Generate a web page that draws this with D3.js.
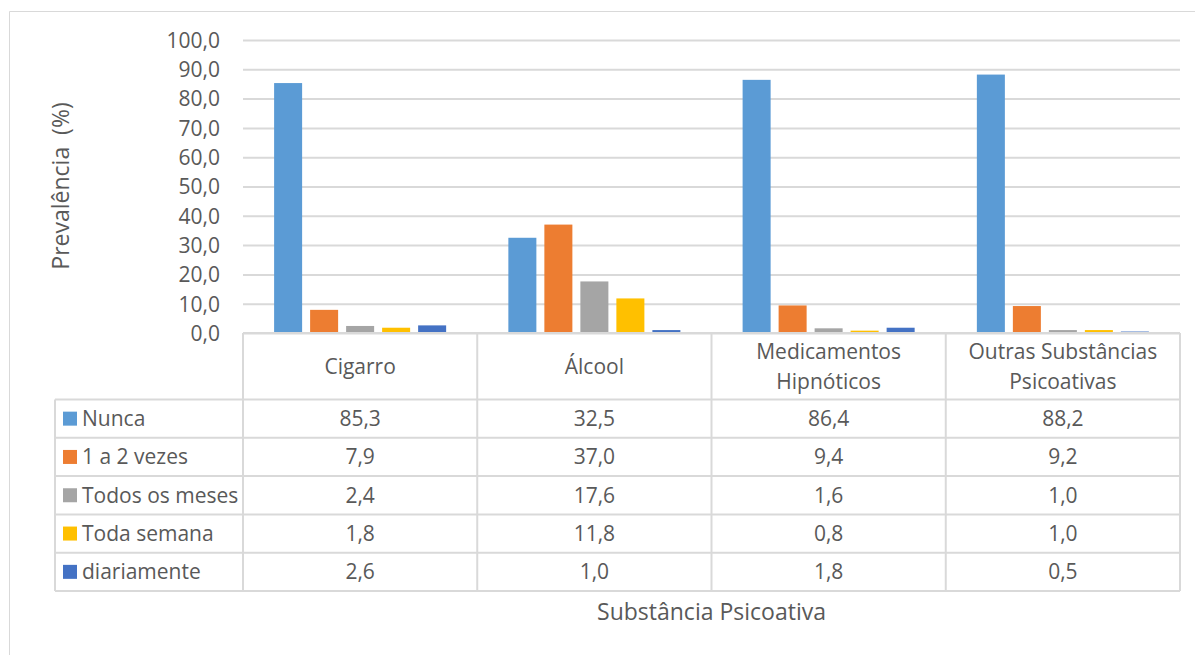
<!DOCTYPE html>
<html><head><meta charset="utf-8">
<script src="https://cdn.jsdelivr.net/npm/d3@7"></script>
<style>body{margin:0;background:#fff}svg{display:block}text{font-family:"Open Sans",sans-serif;fill:#595959}</style>
</head><body><svg id="c" width="1195" height="655"></svg>
<script>
const categories = [["Cigarro"], ["Álcool"], ["Medicamentos", "Hipnóticos"], ["Outras Substâncias", "Psicoativas"]];
const seriesNames = ["Nunca", "1 a 2 vezes", "Todos os meses", "Toda semana", "diariamente"];
const nunca = [85.3, 32.5, 86.4, 88.2];
const vezes12 = [7.9, 37.0, 9.4, 9.2];
const todosMeses = [2.4, 17.6, 1.6, 1.0];
const todaSemana = [1.8, 11.8, 0.8, 1.0];
const diariamente = [2.6, 1.0, 1.8, 0.5];
const yTicks = [0, 10, 20, 30, 40, 50, 60, 70, 80, 90, 100];
const colors = ["#5B9BD5", "#ED7D31", "#A5A5A5", "#FFC000", "#4472C4"];
const series = [nunca, vezes12, todosMeses, todaSemana, diariamente];

const svg = d3.select("#c");
const fmt = v => v.toFixed(1).replace(".", ",");
const L = 243, R = 1180, T = 40, B = 333;
const legL = 55;
const rowH = 38.3, headH = 66.5;
const grid = "#D9D9D9";
const fs = 21;

// outer border
svg.append("path").attr("d", "M9.5,655 V11.5 H1195").attr("fill", "none").attr("stroke", "#D9D9D9").attr("stroke-width", 1);

const y = d3.scaleLinear().domain([0, 100]).range([B, T]);
const x0 = d3.scaleBand().domain(d3.range(categories.length)).range([L, R]).paddingInner(0).paddingOuter(0);
const x1 = d3.scaleBand().domain(d3.range(seriesNames.length)).range([0, x0.bandwidth()]).paddingInner(0.222).paddingOuter(0.864);

// gridlines
const yAxis = d3.axisLeft(y).tickValues(yTicks).tickSize(-(R - L)).tickFormat(fmt);
const ga = svg.append("g").attr("transform", `translate(${L},0)`).call(yAxis);
ga.select(".domain").remove();
ga.selectAll(".tick line").attr("stroke", grid).attr("stroke-width", 2);
ga.selectAll(".tick text").attr("x", -23).attr("font-size", fs).attr("fill", "#595959").attr("font-family", '"Open Sans",sans-serif').attr("dy", "0.35em");

// bars
series.forEach((vals, si) => {
  svg.append("g").selectAll("rect").data(vals).join("rect")
    .attr("x", (d, i) => x0(i) + x1(si))
    .attr("width", x1.bandwidth())
    .attr("y", d => y(d))
    .attr("height", d => y(0) - y(d))
    .attr("fill", colors[si]);
});

// data table
const tg = svg.append("g");
const line = (x1_, y1_, x2_, y2_) => tg.append("line").attr("x1", x1_).attr("y1", y1_).attr("x2", x2_).attr("y2", y2_).attr("stroke", grid).attr("stroke-width", 2);
const headBottom = B + headH;
const tableBottom = headBottom + rowH * seriesNames.length;
line(L, B, R, B);
for (let r = 0; r <= seriesNames.length; r++) {
  const yy = headBottom + r * rowH;
  line(legL, yy, R, yy);
}
line(legL, headBottom, legL, tableBottom);
for (let c = 0; c <= categories.length; c++) {
  const xx = L + c * x0.bandwidth();
  line(xx, B, xx, tableBottom);
}
categories.forEach((lines, i) => {
  const cx = x0(i) + x0.bandwidth() / 2;
  const cy = B + headH / 2;
  const t = tg.append("text").attr("text-anchor", "middle").attr("font-size", fs);
  lines.forEach((ln, k) => {
    t.append("tspan").attr("x", cx).attr("y", cy + (k - (lines.length - 1) / 2) * 30).attr("dy", "0.35em").text(ln);
  });
});
seriesNames.forEach((name, si) => {
  const cy = headBottom + si * rowH + rowH / 2;
  tg.append("rect").attr("x", 63).attr("y", cy - 7).attr("width", 14).attr("height", 14).attr("fill", colors[si]);
  tg.append("text").attr("x", 82).attr("y", cy).attr("dy", "0.35em").attr("font-size", fs).attr("textLength", null).text(name);
  series[si].forEach((v, i) => {
    tg.append("text").attr("x", x0(i) + x0.bandwidth() / 2).attr("y", cy).attr("dy", "0.35em")
      .attr("text-anchor", "middle").attr("font-size", fs).text(fmt(v));
  });
});

// axis titles
svg.append("text").attr("x", (L + R) / 2).attr("y", 612).attr("dy", "0.35em").attr("text-anchor", "middle").attr("font-size", 23).text("Substância Psicoativa");
svg.append("text").attr("transform", `translate(61,186) rotate(-90)`).attr("dy", "0.35em").attr("text-anchor", "middle").attr("font-size", 23).attr("xml:space", "preserve").style("white-space", "pre").text("Prevalência  (%)");
</script></body></html>
